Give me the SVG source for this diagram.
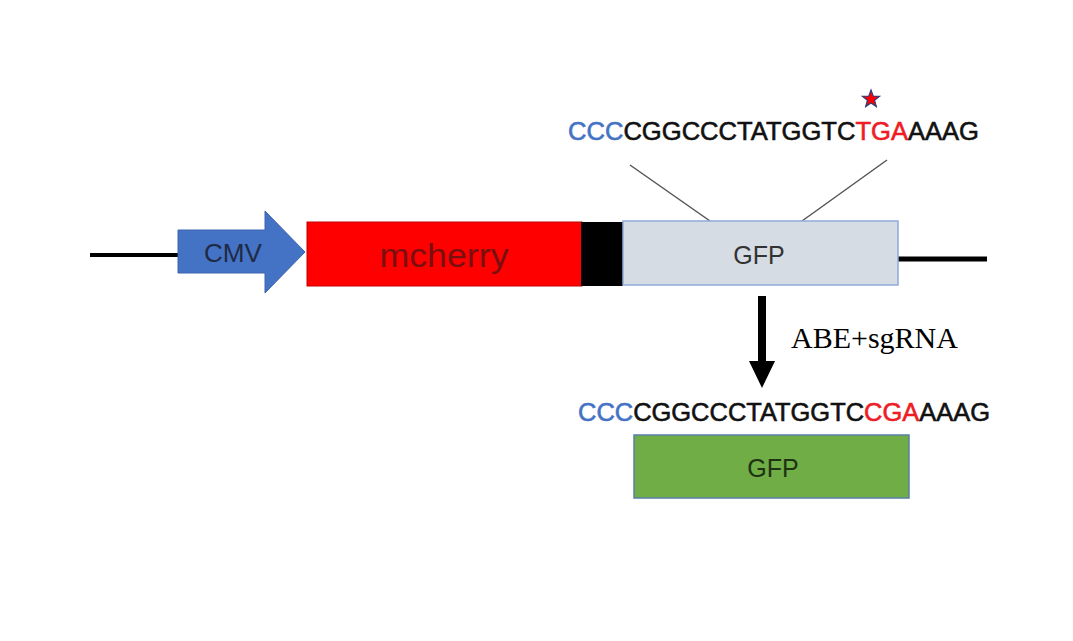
<svg xmlns="http://www.w3.org/2000/svg" width="1073" height="641" viewBox="0 0 1073 641">
<style>
.seq{font-family:"Liberation Sans",Arial,sans-serif;font-size:25.5px;fill:#111;stroke:#111;stroke-width:0.6}
.b{fill:#4472c4;stroke:#4472c4}
.r{fill:#ee1c25;stroke:#ee1c25}
.lbl{font-family:"Liberation Sans",Arial,sans-serif;text-anchor:middle}
</style>
<rect width="1073" height="641" fill="#fff"/>
<g id="connectors">
<line x1="90" y1="255" x2="180" y2="255" stroke="#000" stroke-width="4"/>
<line x1="896" y1="259" x2="987" y2="259" stroke="#000" stroke-width="5"/>
<line x1="630" y1="165" x2="710" y2="221" stroke="#555" stroke-width="1.5"/>
<line x1="887" y1="160" x2="802" y2="221" stroke="#555" stroke-width="1.5"/>
<polygon points="758,296 766,296 766,361 775,361 762,388 749,361 758,361" fill="#000"/>
</g>
<g id="cmv">
<polygon points="178,230 265,230 265,211 305,252 265,293 265,273 178,273" fill="#4472c4" stroke="#3a64b0" stroke-width="1"/>
<text class="lbl" x="233" y="262" font-size="25" fill="#1f2a44" textLength="58" lengthAdjust="spacingAndGlyphs">CMV</text>
</g>
<g id="mcherry">
<rect x="307" y="222" width="275" height="64" fill="#ff0000" stroke="#c00000" stroke-width="1"/>
<text class="lbl" x="444" y="267" font-size="33" fill="#7a0f0f" textLength="129" lengthAdjust="spacingAndGlyphs">mcherry</text>
</g>
<g id="linker">
<rect x="581" y="222" width="42" height="64" fill="#000"/>
</g>
<g id="gfp1">
<rect x="623" y="221" width="275" height="64" fill="#d6dce4" stroke="#8faadc" stroke-width="1.5"/>
<text class="lbl" x="759" y="264" font-size="25" fill="#333">GFP</text>
</g>
<g id="seq1">
<text class="seq" x="568" y="140" textLength="411" lengthAdjust="spacingAndGlyphs"><tspan class="b">CCC</tspan>CGGCCCTATGGTC<tspan class="r">TGA</tspan>AAAG</text>
<polygon points="871,90 873.2,96 879.6,96.3 874.6,100.3 876.3,106.5 871,103 865.7,106.5 867.4,100.3 862.4,96.3 868.8,96" fill="#ff0000" stroke="#2f3c7a" stroke-width="1.2"/>
</g>
<g id="label">
<text x="791" y="348" font-family="Liberation Serif,Times New Roman,serif" font-size="30" fill="#000">ABE+sgRNA</text>
</g>
<g id="seq2">
<text class="seq" x="578" y="421" textLength="412" lengthAdjust="spacingAndGlyphs"><tspan class="b">CCC</tspan>CGGCCCTATGGTC<tspan class="r">CGA</tspan>AAAG</text>
</g>
<g id="gfp2">
<rect x="634" y="435" width="275" height="63" fill="#70ad47" stroke="#5a7fa8" stroke-width="1.5"/>
<text class="lbl" x="773" y="477" font-size="25" fill="#1e3312">GFP</text>
</g>
</svg>
